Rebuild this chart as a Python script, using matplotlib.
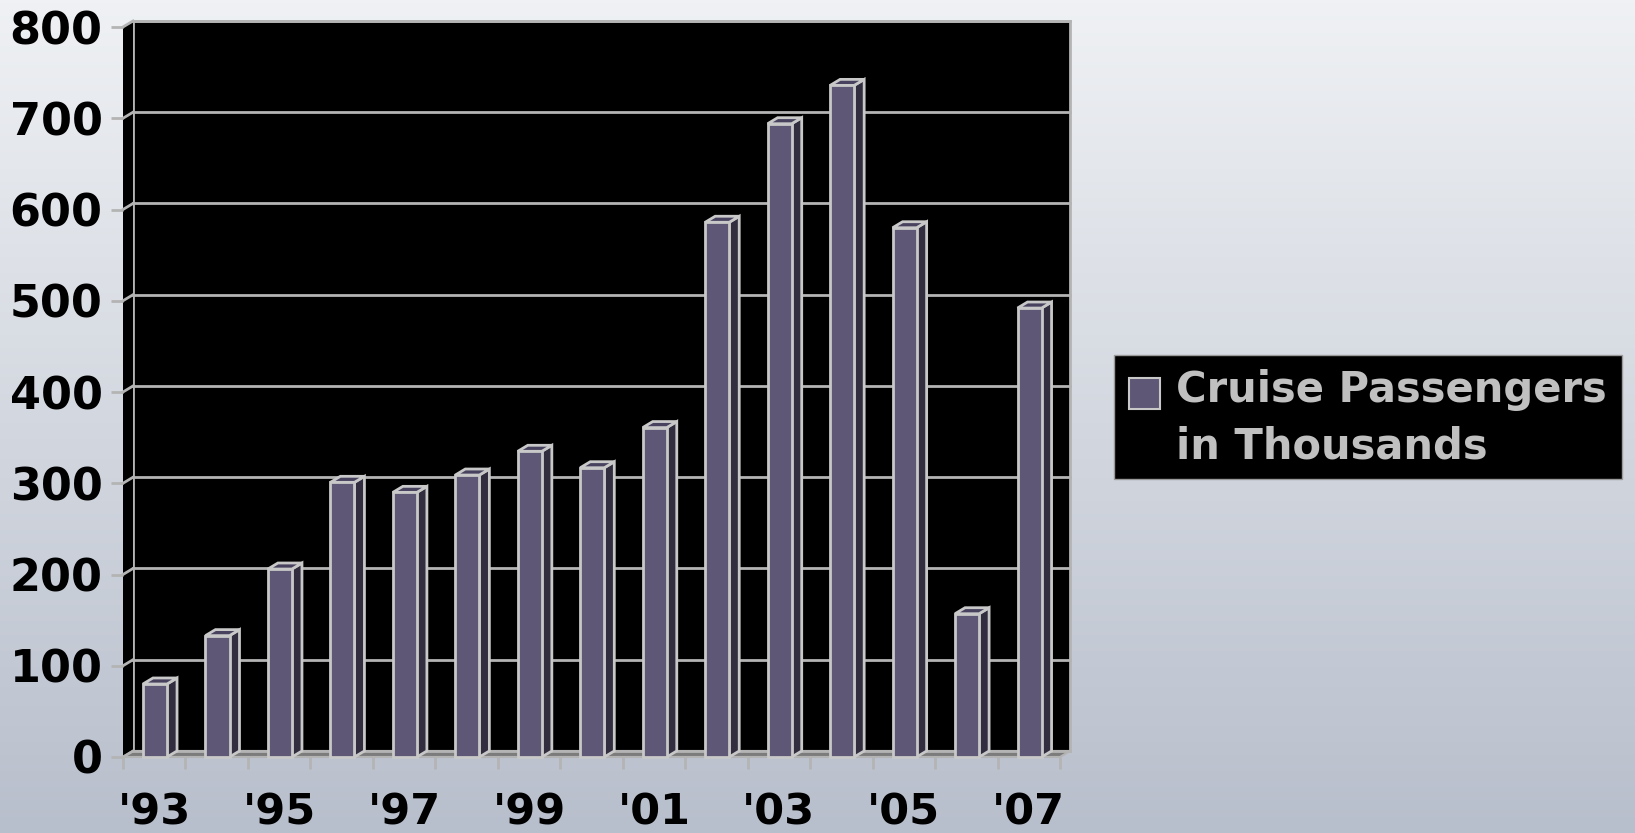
import numpy as np
import matplotlib
matplotlib.use("Agg")
import matplotlib.pyplot as plt
from matplotlib.patches import Rectangle, Polygon

# Cruise passengers (thousands), 1993 - 2007
years = ["'93", "'94", "'95", "'96", "'97", "'98", "'99", "'00",
         "'01", "'02", "'03", "'04", "'05", "'06", "'07"]
passengers = [80, 133, 206, 301, 290, 309, 335, 317, 361, 586, 694, 736, 580, 157, 492]
y_ticks = [0, 100, 200, 300, 400, 500, 600, 700, 800]
x_labels = ["'93", "'95", "'97", "'99", "'01", "'03", "'05", "'07"]
legend_label = "Cruise Passengers\nin Thousands"

FRONT = "#5e5775"
SIDE = "#322e40"
TOP = "#48425f"
EDGE = "#c8c8c8"
GRID = "#b4b4b4"

fig = plt.figure(figsize=(16.35, 8.33), dpi=100)

# background gradient
bg = fig.add_axes([0, 0, 1, 1], zorder=-10)
grad = np.linspace(0, 1, 256).reshape(-1, 1)
top_c = np.array([0xef, 0xf1, 0xf4]) / 255
bot_c = np.array([0xb8, 0xbf, 0xcc]) / 255
img = top_c + (bot_c - top_c) * grad[:, :, None]
bg.imshow(img, aspect="auto", extent=[0, 1, 0, 1])
bg.axis("off")

ax = fig.add_axes([123 / 1635, 1 - 757 / 833, 937 / 1635, 730 / 833])
ax.set_facecolor("none")
n = len(years)
ax.set_xlim(0, n)
ax.set_ylim(0, 800)

# 3d depth offset in data units
dx = 0.16
dy = 6.6

# back wall
ax.add_patch(Rectangle((dx, dy), n, 800, facecolor="black", edgecolor=GRID,
                       lw=2, zorder=1, clip_on=False))
# left wall
ax.add_patch(Polygon([(0, 0), (0, 800), (dx, 800 + dy), (dx, dy)],
                     facecolor="black", edgecolor="none", zorder=1, clip_on=False))
# floor
ax.add_patch(Polygon([(0, 0), (n, 0), (n + dx, dy), (dx, dy)],
                     facecolor="#7c7c7c", edgecolor=GRID, lw=1.5, zorder=2, clip_on=False))

for v in y_ticks:
    ax.plot([dx, n + dx], [v + dy, v + dy], color=GRID, lw=2, zorder=2, clip_on=False)
    ax.plot([0, dx], [v, v + dy], color=GRID, lw=2, zorder=2, clip_on=False)

# bars
x0s = np.arange(n) + 0.32
w = 0.385
ax.bar(x0s, passengers, width=w, align="edge", color=FRONT, edgecolor=EDGE,
       linewidth=2, zorder=5, clip_on=False)
for x0, v in zip(x0s, passengers):
    x1 = x0 + w
    ax.add_patch(Polygon([(x1, 0), (x1 + dx, dy), (x1 + dx, v + dy), (x1, v)],
                         facecolor=SIDE, edgecolor=EDGE, lw=2, zorder=4, clip_on=False))
    ax.add_patch(Polygon([(x0, v), (x0 + dx, v + dy), (x1 + dx, v + dy), (x1, v)],
                         facecolor=TOP, edgecolor=EDGE, lw=2, zorder=4, clip_on=False))

for s in ax.spines.values():
    s.set_visible(False)

ax.set_yticks(y_ticks)
ax.set_yticklabels([str(v) for v in y_ticks], fontsize=32, fontweight="bold", color="black")
ax.tick_params(axis="y", length=8.6, width=2, color=GRID, pad=6)

ax.set_xticks(np.arange(n + 1))
ax.set_xticklabels([])
ax.set_xticks(np.arange(0, n, 2) + 0.5, minor=True)
ax.set_xticklabels(x_labels, minor=True, fontsize=31, fontweight="bold", color="black")
ax.tick_params(axis="x", which="major", length=8.6, width=2, color=GRID)
ax.tick_params(axis="x", which="minor", length=0, pad=25)

# legend box
fig.patches.append(Rectangle((1114 / 1635, 1 - 479 / 833), 508 / 1635, 124 / 833,
                             transform=fig.transFigure, facecolor="black",
                             edgecolor="#9a9a9a", lw=1, zorder=3))
fig.patches.append(Rectangle((1129 / 1635, 1 - 409 / 833), 31 / 1635, 31 / 833,
                             transform=fig.transFigure, facecolor=FRONT,
                             edgecolor=EDGE, lw=1.5, zorder=4))
fig.text(1176 / 1635, 1 - 418 / 833, legend_label, ha="left", va="center",
         fontsize=30, fontweight="bold", color="#c0c0c0", linespacing=1.45, zorder=5)

fig.savefig("out.png", dpi=100)
